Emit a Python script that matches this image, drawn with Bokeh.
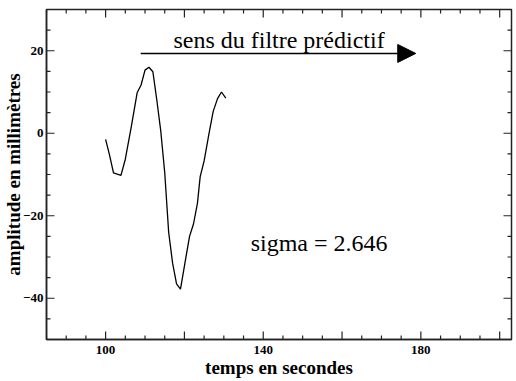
import math
from bokeh.plotting import figure
from bokeh.models import FixedTicker, Range1d, Arrow, NormalHead
from bokeh.core.properties import value
from bokeh.embed import file_html
from bokeh.resources import INLINE

# data
temps = [100, 101, 102, 103.9, 105, 106.5, 108, 109, 110, 111, 112, 113, 114, 115,
         116, 117, 118, 119, 120.3, 121.3, 122.3, 123.3, 124, 125, 126.2, 127.3,
         128.4, 129.4, 130.5]
amplitude = [-1.5, -5.3, -9.6, -10.2, -6.3, 1.5, 9.8, 11.7, 15.3, 16, 14.9, 8, 0.5,
             -9.5, -24, -31.5, -36.5, -37.8, -30.5, -25, -22, -17, -10.5, -6.7,
             -0.3, 5.3, 8.4, 10, 8.5]
x_start, x_end = 85, 203
y_start, y_end = -50, 30
x_major = [100, 120, 140, 160, 180, 200]
x_minor = [v for v in range(85, 205, 5) if v not in x_major]
y_major = [-40, -20, 0, 20]
y_minor = [v for v in range(-50, 35, 5) if v not in y_major]
x_label_overrides = {120: "", 160: "", 200: ""}
arrow_x = [108.9, 178.7]
arrow_y = 19.35
note_text = ["sens du filtre prédictif", "sigma = 2.646"]
note_x = [117.2, 136.8]
note_y = [22.7, -26.7]

SERIF = "Liberation Serif"
AX = "#222222"

p = figure(frame_width=465, frame_height=330,
           x_range=Range1d(x_start, x_end), y_range=Range1d(y_start, y_end),
           output_backend="svg", toolbar_location=None)
p.min_border_left = 46
p.min_border_right = 5
p.min_border_top = 9
p.min_border_bottom = 0
p.xgrid.visible = False
p.ygrid.visible = False
p.outline_line_color = AX
p.outline_line_width = 1.5
p.background_fill_color = "white"
p.border_fill_color = "white"


def label_axis(ax, ticks):
    ax.ticker = FixedTicker(ticks=ticks)
    ax.axis_line_color = AX
    ax.axis_line_width = 1.5
    ax.major_tick_in = 0
    ax.major_tick_out = 0
    ax.minor_tick_in = 0
    ax.minor_tick_out = 0
    ax.major_label_text_font = SERIF
    ax.major_label_text_font_style = "bold"
    ax.major_label_text_font_size = "13px"
    ax.major_label_text_color = "black"
    ax.axis_label_text_font = SERIF
    ax.axis_label_text_font_style = "bold"
    ax.axis_label_text_font_size = "19px"
    ax.axis_label_text_color = "black"


xa = p.xaxis[0]
label_axis(xa, x_major)
xa.major_label_overrides = x_label_overrides
xa.major_label_standoff = 6
xa.axis_label = "temps en secondes"
xa.axis_label_standoff = 0

ya = p.yaxis[0]
label_axis(ya, y_major)
ya.major_label_standoff = 3
ya.axis_label = "amplitude en millimètres"
ya.axis_label_standoff = -4

# inward tick marks on all four frame edges (screen-length rays from the tick lists)
tick_style = dict(line_color=AX, line_width=1.2, length_units="screen")
for ticks, ln in ((x_major, 8), (x_minor, 4)):
    p.ray(x=ticks, y=[y_start] * len(ticks), length=ln, angle=math.pi / 2, **tick_style)
    p.ray(x=ticks, y=[y_end] * len(ticks), length=ln, angle=-math.pi / 2, **tick_style)
for ticks, ln in ((y_major, 8), (y_minor, 4)):
    p.ray(x=[x_start] * len(ticks), y=ticks, length=ln, angle=0, **tick_style)
    p.ray(x=[x_end] * len(ticks), y=ticks, length=ln, angle=math.pi, **tick_style)

p.line(temps, amplitude, line_color="black", line_width=1.3)

p.add_layout(Arrow(end=NormalHead(size=18, fill_color="black", line_color="black"),
                   x_start=arrow_x[0], y_start=arrow_y, x_end=arrow_x[1], y_end=arrow_y,
                   line_color="black", line_width=1.5))

p.text(x=note_x, y=note_y, text=note_text, text_font=value(SERIF),
       text_font_size="24px", text_color="black",
       text_baseline="alphabetic", text_align="left")

open("out.html", "w").write(file_html(p, INLINE))
